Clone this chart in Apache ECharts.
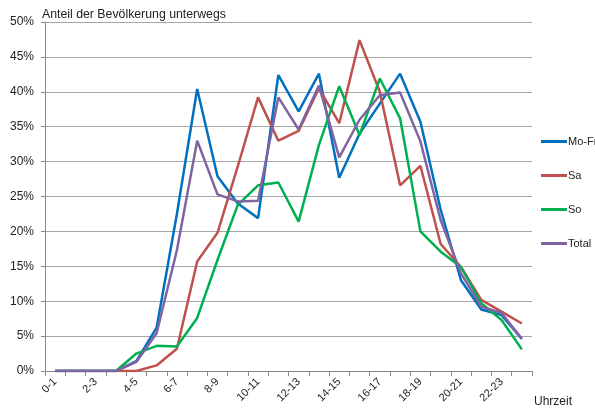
<!DOCTYPE html>
<html>
<head>
<meta charset="utf-8">
<script src="https://cdn.jsdelivr.net/npm/echarts@6/dist/echarts.min.js"></script>
<style>
  html, body { margin: 0; padding: 0; background: #fff; }
  #chart { width: 595px; height: 414px; }
</style>
</head>
<body>
<div id="chart"></div>
<script>
// Hour-of-day intervals
const hours = ['0-1','1-2','2-3','3-4','4-5','5-6','6-7','7-8','8-9','9-10','10-11','11-12',
  '12-13','13-14','14-15','15-16','16-17','17-18','18-19','19-20','20-21','21-22','22-23','23-24'];

// Share of population on the move, in percent
const moFr  = [0, 0, 0, 0, 1.4, 6.2, 22.5, 40.4, 27.9, 24.0, 21.9, 42.4,
  37.2, 42.6, 27.7, 34.0, 38.3, 42.6, 35.7, 23.1, 13.0, 8.8, 8.0, 4.6];
const sa    = [0, 0, 0, 0, 0, 0.8, 3.2, 15.7, 19.8, 29.3, 39.2, 33.0,
  34.4, 40.5, 35.5, 47.4, 40.0, 26.6, 29.4, 18.2, 14.9, 10.2, 8.5, 6.8];
const so    = [0, 0, 0, 0, 2.5, 3.6, 3.5, 7.6, 15.9, 23.8, 26.6, 27.0,
  21.4, 32.4, 40.8, 33.8, 41.9, 36.2, 20.0, 17.1, 14.9, 9.7, 7.3, 3.1];
const total = [0, 0, 0, 0, 1.3, 5.4, 17.3, 33.0, 25.3, 24.3, 24.4, 39.2,
  34.6, 40.9, 30.6, 36.0, 39.5, 39.9, 32.9, 21.6, 14.0, 9.2, 8.3, 4.6];

const seriesNames = ['Mo-Fr', 'Sa', 'So', 'Total'];
const seriesData = [moFr, sa, so, total];
const colors = ['#0070C0', '#C0504D', '#00B050', '#8064A2'];

const font = 'Liberation Sans, Arial, sans-serif';
const chart = echarts.init(document.getElementById('chart'), null, { renderer: 'canvas' });

chart.setOption({
  animation: false,
  color: colors,
  title: {
    text: 'Anteil der Bevölkerung unterwegs',
    left: 37, top: 4,
    textStyle: { fontFamily: font, fontSize: 12.3, fontWeight: 'normal', color: '#222' }
  },
  legend: {
    orient: 'vertical',
    left: 541, top: 136,
    padding: 0,
    itemWidth: 26, itemHeight: 3,
    itemGap: 23,
    icon: 'rect',
    textStyle: { fontFamily: font, fontSize: 11, color: '#222', padding: [0, 0, 0, -4] },
    data: seriesNames
  },
  grid: { left: 45, right: 63, top: 22, bottom: 43, containLabel: false },
  xAxis: {
    type: 'category',
    data: hours,
    boundaryGap: true,
    axisLine: { lineStyle: { color: '#888', width: 1 } },
    axisTick: { show: true, alignWithLabel: false, interval: 0, length: 5, lineStyle: { color: '#888' } },
    axisLabel: {
      interval: 1, rotate: 45,
      fontFamily: font, fontSize: 11, color: '#222', margin: 9
    },
    splitLine: { show: false }
  },
  yAxis: {
    type: 'value',
    min: 0, max: 50, interval: 5,
    axisLine: { show: true, lineStyle: { color: '#888', width: 1 } },
    axisTick: { show: true, length: 4, lineStyle: { color: '#888' } },
    axisLabel: { formatter: '{value}%', fontFamily: font, fontSize: 12, color: '#222', margin: 11 },
    splitLine: { show: true, lineStyle: { color: '#a6a6a6', width: 1 } }
  },
  graphic: [{
    type: 'text',
    left: 534, top: 396,
    style: { text: 'Uhrzeit', font: '12px ' + font, fill: '#222' }
  }],
  series: seriesNames.map((name, k) => ({
    name: name,
    type: 'line',
    data: seriesData[k],
    symbol: 'none',
    lineStyle: { width: 2.5, color: colors[k] },
    itemStyle: { color: colors[k] }
  }))
});
</script>
</body>
</html>
